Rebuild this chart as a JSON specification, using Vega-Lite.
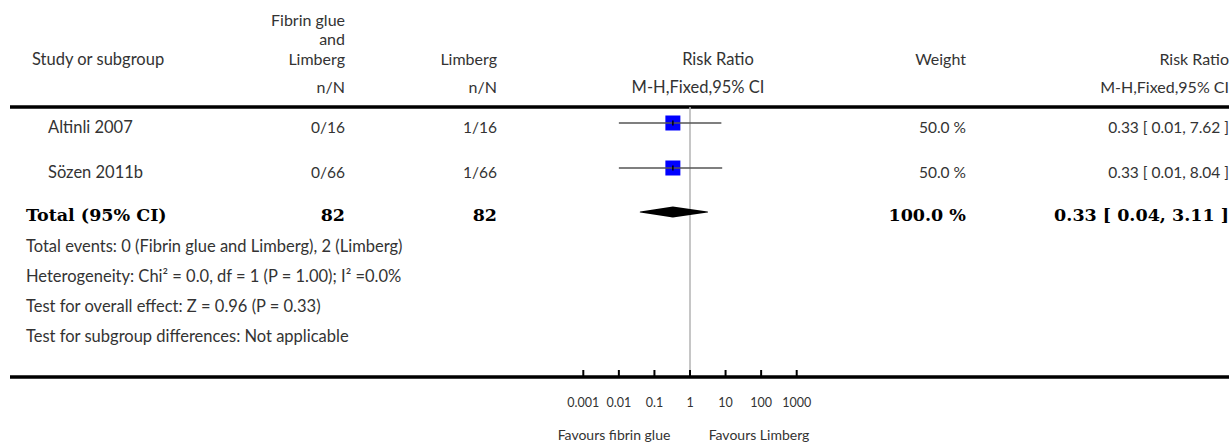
{
  "$schema": "https://vega.github.io/schema/vega-lite/v6.json",
  "width": 1229,
  "height": 444,
  "padding": 0,
  "autosize": {"type": "none"},
  "background": "white",
  "config": {"view": {"stroke": null}},
  "datasets": {
    "texts": [
      {"line": 0, "col": 4, "text": "Fibrin glue", "kind": "hdr", "align": "right"},
      {"line": 1, "col": 4, "text": "and", "kind": "hdr", "align": "right"},
      {"line": 2, "col": 4, "text": "Limberg", "kind": "hdr", "align": "right"},
      {"line": 3, "col": 4, "text": "n/N", "kind": "hdr", "align": "right"},
      {"line": 2, "col": 5, "text": "Limberg", "kind": "hdr", "align": "right"},
      {"line": 3, "col": 5, "text": "n/N", "kind": "hdr", "align": "right"},
      {"line": 2, "col": 2, "text": "Study or subgroup", "kind": "hdr", "align": "left"},
      {"line": 2, "col": 8, "text": "Risk Ratio", "kind": "hdr", "align": "center"},
      {"line": 3, "col": 7, "text": "M-H,Fixed,95% CI", "kind": "hdr", "align": "center"},
      {"line": 2, "col": 10, "text": "Weight", "kind": "hdr", "align": "right"},
      {"line": 2, "col": 11, "text": "Risk Ratio", "kind": "hdr", "align": "right"},
      {"line": 3, "col": 11, "text": "M-H,Fixed,95% CI", "kind": "hdr", "align": "right"},
      {"line": 6, "col": 3, "text": "Altinli 2007", "kind": "row", "align": "left"},
      {"line": 6, "col": 4, "text": "0/16", "kind": "num", "align": "right"},
      {"line": 6, "col": 5, "text": "1/16", "kind": "num", "align": "right"},
      {"line": 6, "col": 10, "text": "50.0 %", "kind": "num", "align": "right"},
      {"line": 6, "col": 11, "text": "0.33 [ 0.01, 7.62 ]", "kind": "num", "align": "right"},
      {"line": 8, "col": 3, "text": "Sözen 2011b", "kind": "row", "align": "left"},
      {"line": 8, "col": 4, "text": "0/66", "kind": "num", "align": "right"},
      {"line": 8, "col": 5, "text": "1/66", "kind": "num", "align": "right"},
      {"line": 8, "col": 10, "text": "50.0 %", "kind": "num", "align": "right"},
      {"line": 8, "col": 11, "text": "0.33 [ 0.01, 8.04 ]", "kind": "num", "align": "right"},
      {"line": 10, "col": 1, "text": "Total (95% CI)", "kind": "bold", "align": "left"},
      {"line": 10, "col": 4, "text": "82", "kind": "bold", "align": "right"},
      {"line": 10, "col": 5, "text": "82", "kind": "bold", "align": "right"},
      {"line": 10, "col": 10, "text": "100.0 %", "kind": "bold", "align": "right"},
      {"line": 10, "col": 11, "text": "0.33 [ 0.04, 3.11 ]", "kind": "bold", "align": "right"},
      {"line": 11, "col": 1, "text": "Total events: 0 (Fibrin glue and Limberg), 2 (Limberg)", "kind": "foot", "align": "left"},
      {"line": 12, "col": 1, "text": "Heterogeneity: Chi² = 0.0, df = 1 (P = 1.00); I² =0.0%", "kind": "foot", "align": "left"},
      {"line": 13, "col": 1, "text": "Test for overall effect: Z = 0.96 (P = 0.33)", "kind": "foot", "align": "left"},
      {"line": 14, "col": 1, "text": "Test for subgroup differences: Not applicable", "kind": "foot", "align": "left"},
      {"line": 17, "col": 6, "text": "Favours fibrin glue", "kind": "fav", "align": "center"},
      {"line": 17, "col": 9, "text": "Favours Limberg", "kind": "fav", "align": "center"}
    ],
    "studies": [
      {"study": "Altinli 2007", "line": 5, "rr": 0.33, "low": 0.01, "high": 7.62},
      {"study": "Sözen 2011b", "line": 7, "rr": 0.33, "low": 0.01, "high": 8.04}
    ],
    "diamond": [
      {"line": 9, "x": 0.04, "w": 0},
      {"line": 9, "x": 0.33, "w": 1},
      {"line": 9, "x": 3.11, "w": 0}
    ],
    "ticks": [
      {"v": 0.001, "label": "0.001"},
      {"v": 0.01, "label": "0.01"},
      {"v": 0.1, "label": "0.1"},
      {"v": 1, "label": "1"},
      {"v": 10, "label": "10"},
      {"v": 100, "label": "100"},
      {"v": 1000, "label": "1000"}
    ],
    "rules": [
      {"line": 4, "from": 0, "to": 11},
      {"line": 15, "from": 0, "to": 11}
    ],
    "refline": [{"v": 1, "from": 4, "to": 15}]
  },
  "resolve": {"scale": {"x": "independent"}},
  "layer": [
    {
      "layer": [
        {
          "data": {"name": "rules"},
          "mark": {"type": "rule", "color": "black", "strokeWidth": 3.5},
          "encoding": {
            "x": {"field": "from", "type": "quantitative", "scale": {"domain": [0,1,2,3,4,5,6,7,8,9,10,11], "range": [10,26,32,48,345,497,614,698,718,759,966,1229], "zero": false, "nice": false}, "axis": null},
            "x2": {"field": "to"},
            "y": {"field": "line", "type": "quantitative", "scale": {"domain": [0,1,2,3,4,5,6,7,8,9,10,11,12,13,14,15,16,17], "range": [21,40,60,88,107,123,128,168,173,212,216,247,277,307,337,377,403,436], "zero": false, "nice": false}, "axis": null}
          }
        },
        {
          "data": {"name": "texts"},
          "transform": [{"filter": "datum.kind !== 'bold' && datum.kind !== 'fav' && datum.kind !== 'num' && datum.align === 'left'"}],
          "mark": {"type": "text", "align": "left", "baseline": "middle", "font": "Lato", "fontSize": 16.5, "color": "#333"},
          "encoding": {
            "x": {"field": "col", "type": "quantitative", "axis": null},
            "y": {"field": "line", "type": "quantitative", "axis": null},
            "text": {"field": "text"}
          }
        },
        {
          "data": {"name": "texts"},
          "transform": [{"filter": "datum.kind !== 'bold' && datum.kind !== 'fav' && datum.kind !== 'num' && datum.align === 'right'"}],
          "mark": {"type": "text", "align": "right", "baseline": "middle", "font": "Lato", "fontSize": 16, "color": "#333"},
          "encoding": {
            "x": {"field": "col", "type": "quantitative", "axis": null},
            "y": {"field": "line", "type": "quantitative", "axis": null},
            "text": {"field": "text"}
          }
        },
        {
          "data": {"name": "texts"},
          "transform": [{"filter": "datum.kind === 'num'"}],
          "mark": {"type": "text", "align": "right", "baseline": "middle", "font": "Lato", "fontSize": 15.5, "color": "#333"},
          "encoding": {
            "x": {"field": "col", "type": "quantitative", "axis": null},
            "y": {"field": "line", "type": "quantitative", "axis": null},
            "text": {"field": "text"}
          }
        },
        {
          "data": {"name": "texts"},
          "transform": [{"filter": "datum.kind !== 'bold' && datum.kind !== 'fav' && datum.align === 'center'"}],
          "mark": {"type": "text", "align": "center", "baseline": "middle", "font": "Lato", "fontSize": 16.5, "color": "#333"},
          "encoding": {
            "x": {"field": "col", "type": "quantitative", "axis": null},
            "y": {"field": "line", "type": "quantitative", "axis": null},
            "text": {"field": "text"}
          }
        },
        {
          "data": {"name": "texts"},
          "transform": [{"filter": "datum.kind === 'bold' && datum.align === 'left'"}],
          "mark": {"type": "text", "align": "left", "baseline": "middle", "font": "DejaVu Serif", "fontWeight": "bold", "fontSize": 17.5, "color": "black"},
          "encoding": {
            "x": {"field": "col", "type": "quantitative", "axis": null},
            "y": {"field": "line", "type": "quantitative", "axis": null},
            "text": {"field": "text"}
          }
        },
        {
          "data": {"name": "texts"},
          "transform": [{"filter": "datum.kind === 'bold' && datum.align === 'right'"}],
          "mark": {"type": "text", "align": "right", "baseline": "middle", "font": "DejaVu Serif", "fontWeight": "bold", "fontSize": 17.5, "color": "black"},
          "encoding": {
            "x": {"field": "col", "type": "quantitative", "axis": null},
            "y": {"field": "line", "type": "quantitative", "axis": null},
            "text": {"field": "text"}
          }
        },
        {
          "data": {"name": "texts"},
          "transform": [{"filter": "datum.kind === 'fav'"}],
          "mark": {"type": "text", "align": "center", "baseline": "middle", "font": "Lato", "fontSize": 14, "color": "#333"},
          "encoding": {
            "x": {"field": "col", "type": "quantitative", "axis": null},
            "y": {"field": "line", "type": "quantitative", "axis": null},
            "text": {"field": "text"}
          }
        }
      ]
    },
    {
      "layer": [
        {
          "data": {"name": "refline"},
          "mark": {"type": "rule", "color": "#b3b3b3", "strokeWidth": 1.5},
          "encoding": {
            "x": {"field": "v", "type": "quantitative", "scale": {"type": "log", "domain": [0.001, 1000], "range": [583.3, 796.7], "nice": false}, "axis": null},
            "y": {"field": "from", "type": "quantitative", "axis": null},
            "y2": {"field": "to"}
          }
        },
        {
          "data": {"name": "studies"},
          "mark": {"type": "square", "size": 225, "color": "#0000ff", "opacity": 1, "filled": true},
          "encoding": {
            "x": {"field": "rr", "type": "quantitative", "axis": null},
            "y": {"field": "line", "type": "quantitative", "axis": null}
          }
        },
        {
          "data": {"name": "studies"},
          "mark": {"type": "rule", "color": "#555555", "strokeWidth": 1.5},
          "encoding": {
            "x": {"field": "low", "type": "quantitative", "axis": null},
            "x2": {"field": "high"},
            "y": {"field": "line", "type": "quantitative", "axis": null}
          }
        },
        {
          "data": {"name": "studies"},
          "mark": {"type": "tick", "orient": "vertical", "size": 5, "thickness": 1.5, "color": "black", "opacity": 1},
          "encoding": {
            "x": {"field": "rr", "type": "quantitative", "axis": null},
            "y": {"field": "line", "type": "quantitative", "axis": null}
          }
        },
        {
          "data": {"name": "diamond"},
          "mark": {"type": "trail", "color": "black"},
          "encoding": {
            "x": {"field": "x", "type": "quantitative", "axis": null},
            "y": {"field": "line", "type": "quantitative", "axis": null},
            "size": {"field": "w", "type": "quantitative", "scale": {"domain": [0, 1], "range": [0, 11]}, "legend": null}
          }
        },
        {
          "data": {"name": "ticks"},
          "mark": {"type": "tick", "orient": "vertical", "size": 7, "thickness": 2, "color": "black", "opacity": 1, "yOffset": -3.5},
          "encoding": {
            "x": {"field": "v", "type": "quantitative", "axis": null},
            "y": {"datum": 15, "type": "quantitative", "axis": null}
          }
        },
        {
          "data": {"name": "ticks"},
          "mark": {"type": "text", "align": "center", "baseline": "middle", "font": "Lato", "fontSize": 12.5, "color": "#333"},
          "encoding": {
            "x": {"field": "v", "type": "quantitative", "axis": null},
            "y": {"datum": 16, "type": "quantitative", "axis": null},
            "text": {"field": "label"}
          }
        }
      ]
    }
  ]
}
